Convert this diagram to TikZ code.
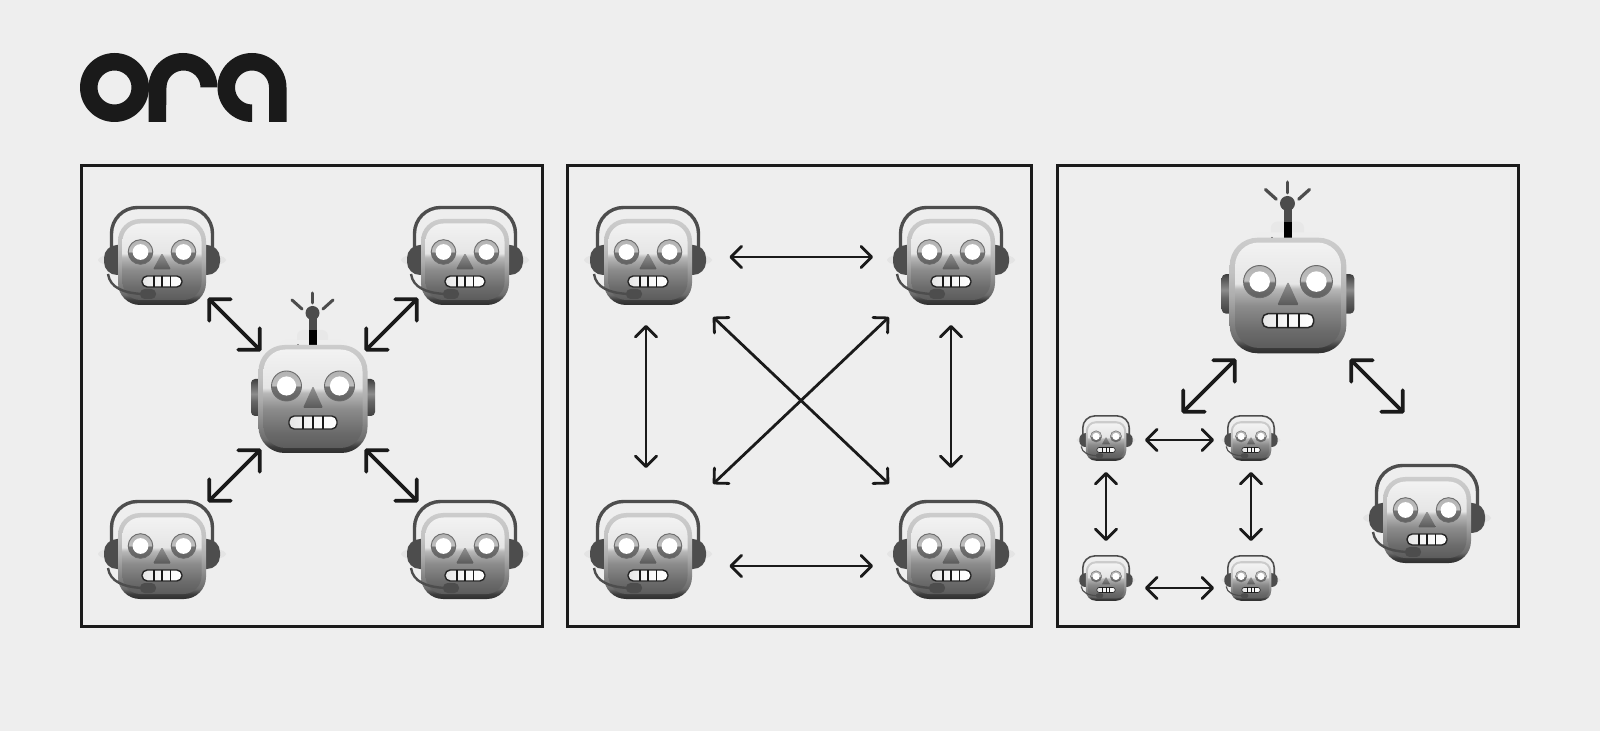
\documentclass[tikz,border=0pt]{standalone}
\usetikzlibrary{arrows.meta}
\definecolor{bgc}{HTML}{EEEEEE}
\definecolor{ink}{HTML}{1A1A1A}
\definecolor{band}{HTML}{4D4D4D}
\definecolor{faint}{HTML}{E4E4E4}
\pgfdeclareverticalshading{bodyg}{100bp}{color(0bp)=(black!64); color(25bp)=(black!64); color(33bp)=(black!58); color(45bp)=(black!45); color(53bp)=(black!28); color(55.5bp)=(black!10); color(75bp)=(black!5); color(100bp)=(black!5)}
\pgfdeclareverticalshading{rimg}{100bp}{color(0bp)=(black!82); color(25bp)=(black!82); color(28bp)=(black!76); color(31bp)=(black!58); color(50bp)=(black!32); color(60bp)=(black!24); color(75bp)=(black!20); color(100bp)=(black!20)}
\pgfdeclareverticalshading{eyeg}{100bp}{color(0bp)=(black!62); color(25bp)=(black!62); color(49bp)=(black!55); color(51bp)=(black!25); color(75bp)=(black!30); color(100bp)=(black!30)}
\pgfdeclareverticalshading{noseg}{100bp}{color(0bp)=(black!65); color(25bp)=(black!65); color(75bp)=(black!42); color(100bp)=(black!42)}
\pgfdeclareverticalshading{earg}{100bp}{color(0bp)=(black!75); color(25bp)=(black!75); color(45bp)=(black!60); color(55bp)=(black!45); color(75bp)=(black!75); color(100bp)=(black!75)}
\tikzset{
 frame/.style={draw=ink,line width=1.5pt},
 thick arrow/.style={draw=ink,line width=1.8pt,{Straight Barb[length=7.6pt,width=15.2pt,line width=1.8pt,round]}-{Straight Barb[length=7.6pt,width=15.2pt,line width=1.8pt,round]}},
 thin arrow/.style={draw=ink,line width=1.4pt,{Straight Barb[length=5.3pt,width=10.6pt,line width=1.4pt,round]}-{Straight Barb[length=5.3pt,width=10.6pt,line width=1.4pt,round]}},
 hook/.style={inner sep=0pt,outer sep=0pt,minimum width=#1},
}
\newcommand{\robotface}[9]{% ex, ey, er, nose apex y, nose base y, nose half w, mouth half w, mouth top, mouth bottom
  \foreach \sx in {-1,1}{
    \shade[shading=eyeg,draw=black!58,line width=\rbs*.45pt] (\sx*#1,#2) circle (#3);
    \fill[white] (\sx*#1,#2) circle (#3*.64);
  }
  \shade[shading=noseg,rounded corners=\rbs*.6pt] (0,#4) -- (#6,#5) -- (-#6,#5) -- cycle;
  \begin{scope}
    \path[clip,rounded corners=\rbs*2.6pt] (-#7,#8) rectangle (#7,#9);
    \shade[left color=black!10,right color=white,middle color=black!3] (-#7,#8) rectangle (#7,#9);
  \end{scope}
  \draw[black!85,line width=\rbs*.7pt,rounded corners=\rbs*2.6pt] (-#7,#8) rectangle (#7,#9);
  \foreach \tx in {-.42,0,.42}{
    \draw[black!90,line width=\rbs*.9pt] (\tx*#7,#8) -- (\tx*#7,#9);
  }
}
\newcommand{\headsetbot}[3]{\begin{scope}[shift={(#1,#2)},scale=#3]
  \pgfmathsetmacro\rbs{#3}
  \fill[faint] (0,-2) ellipse (64 and 10);
  \draw[band,line width=\rbs*1.7pt,rounded corners=\rbs*13pt] (-50.5,-14) -- (-50.5,-54.5) -- (50.5,-54.5) -- (50.5,-14);
  \fill[band,rounded corners=\rbs*6.5pt] (-58,-17) rectangle (-30,13);
  \fill[band,rounded corners=\rbs*6.5pt] (30,-17) rectangle (58,13);
  \shade[shading=rimg,rounded corners=\rbs*11pt] (-44,-43) rectangle (44,43);
  \shade[shading=bodyg,rounded corners=\rbs*9pt] (-39.5,-38.5) rectangle (39.5,38);
  \robotface{21.5}{-10}{12.3}{-9}{7.5}{9}{20}{14}{25}
  \draw[band,line width=\rbs*1.2pt] (-54,12) .. controls (-52,26) and (-38,31) .. (-20,32);
  \fill[band,rounded corners=\rbs*2.3pt] (-22,27) rectangle (-6,37);
\end{scope}}
\newcommand{\antennabot}[3]{\begin{scope}[shift={(#1,#2)},scale=#3]
  \pgfmathsetmacro\rbs{#3}
  \fill[black!9,rounded corners=\rbs*3pt] (-16,-69) rectangle (15,-50);
  \fill[black!7,rounded corners=\rbs*3pt] (-33,-59) rectangle (33,-50);
  \fill[black!70] (-4,-85) rectangle (3.5,-69);
  \fill[black] (-4,-69) rectangle (3.5,-52);
  \fill[black!70] (-.5,-86) circle (7);
  \draw[black!70,line width=\rbs*1.5pt,line cap=round] (-.5,-106) -- (-.5,-96);
  \draw[black!70,line width=\rbs*1.5pt,line cap=round] (-21,-99) -- (-11,-90);
  \draw[black!70,line width=\rbs*1.5pt,line cap=round] (20,-99) -- (10,-90);
  \fill[black!80] (-15,-54) circle (.8);
  \shade[shading=earg,rounded corners=\rbs*2pt] (-62,-20) rectangle (-50,17);
  \shade[shading=earg,rounded corners=\rbs*2pt] (50,-20) rectangle (62,17);
  \shade[shading=rimg,rounded corners=\rbs*13pt] (-54.5,-54) rectangle (54.5,54);
  \shade[shading=bodyg,rounded corners=\rbs*11pt] (-49.5,-49.5) rectangle (49.5,49);
  \robotface{26.5}{-13}{15}{-13}{9}{10}{24}{17}{30}
\end{scope}}
\begin{document}
\begin{tikzpicture}[x=.5pt,y=-.5pt]
\useasboundingbox (0,0) rectangle (1600,731);
\fill[bgc] (0,0) rectangle (1600,731);
% logo
\fill[ink,even odd rule] (114.5,87.5) circle (34.5) (114.5,87.5) circle (17);
\fill[ink] (148.5,122) -- (148.5,87.5) arc (180:360:34.5) -- (200.5,87.5) arc (360:180:17) -- (166,122) -- cycle;
\fill[ink] (252,122) arc (90:360:34.5) -- (286.5,122) -- (269,122) -- (269,87.5) arc (360:90:17) -- cycle;
% frames
\draw[frame] (81,165.5) rectangle (542.5,626);
\draw[frame] (567,165.5) rectangle (1031.5,626);
\draw[frame] (1057,165.5) rectangle (1518,626);
% panel 1
\headsetbot{162}{262}{1}
\headsetbot{465}{262}{1}
\headsetbot{162}{556}{1}
\headsetbot{465}{556}{1}
\antennabot{313}{399}{1}
\node[hook=92*.5pt,minimum height=42pt] (a) at (162,256) {};
\node[hook=92*.5pt,minimum height=42pt] (b) at (464,256) {};
\node[hook=92*.5pt,minimum height=42pt] (c) at (162,544) {};
\node[hook=92*.5pt,minimum height=42pt] (d) at (464,544) {};
\node[hook=52pt,minimum height=49pt] (hub) at (313,400) {};
\draw[thick arrow] (a.south east) -- (hub.north west);
\draw[thick arrow] (b.south west) -- (hub.north east);
\draw[thick arrow] (c.north east) -- (hub.south west);
\draw[thick arrow] (d.north west) -- (hub.south east);
% panel 2
\headsetbot{648}{262}{1}
\headsetbot{951}{262}{1}
\headsetbot{648}{556}{1}
\headsetbot{951}{556}{1}
\coordinate (e1) at (729.5,257); \coordinate (e2) at (873,257);
\coordinate (e3) at (729.5,566); \coordinate (e4) at (873,566);
\coordinate (e5) at (646,325); \coordinate (e6) at (646,468);
\coordinate (e7) at (951,325); \coordinate (e8) at (951,468);
\coordinate (e9) at (713,317); \coordinate (e10) at (889,484);
\coordinate (e11) at (889,317); \coordinate (e12) at (713,484);
\draw[thin arrow] (e1) -- (e2);
\draw[thin arrow] (e3) -- (e4);
\draw[thin arrow] (e5) -- (e6);
\draw[thin arrow] (e7) -- (e8);
\draw[thin arrow] (e9) -- (e10);
\draw[thin arrow] (e11) -- (e12);
% panel 3
\antennabot{1288}{295.5}{1.07}
\headsetbot{1427}{520}{1}
\headsetbot{1106}{441}{.46}
\headsetbot{1251}{441}{.46}
\headsetbot{1106}{581}{.46}
\headsetbot{1251}{581}{.46}
\coordinate (f1) at (1236,359); \coordinate (f2) at (1182,413);
\coordinate (f3) at (1350,359); \coordinate (f4) at (1404,413);
\draw[thick arrow] (f1) -- (f2);
\draw[thick arrow] (f3) -- (f4);
\coordinate (g1) at (1145,440); \coordinate (g2) at (1214,440);
\coordinate (g3) at (1145,588); \coordinate (g4) at (1214,588);
\coordinate (g5) at (1106,472); \coordinate (g6) at (1106,541);
\coordinate (g7) at (1251,472); \coordinate (g8) at (1251,541);
\draw[thin arrow] (g1) -- (g2);
\draw[thin arrow] (g3) -- (g4);
\draw[thin arrow] (g5) -- (g6);
\draw[thin arrow] (g7) -- (g8);
\end{tikzpicture}
\end{document}
